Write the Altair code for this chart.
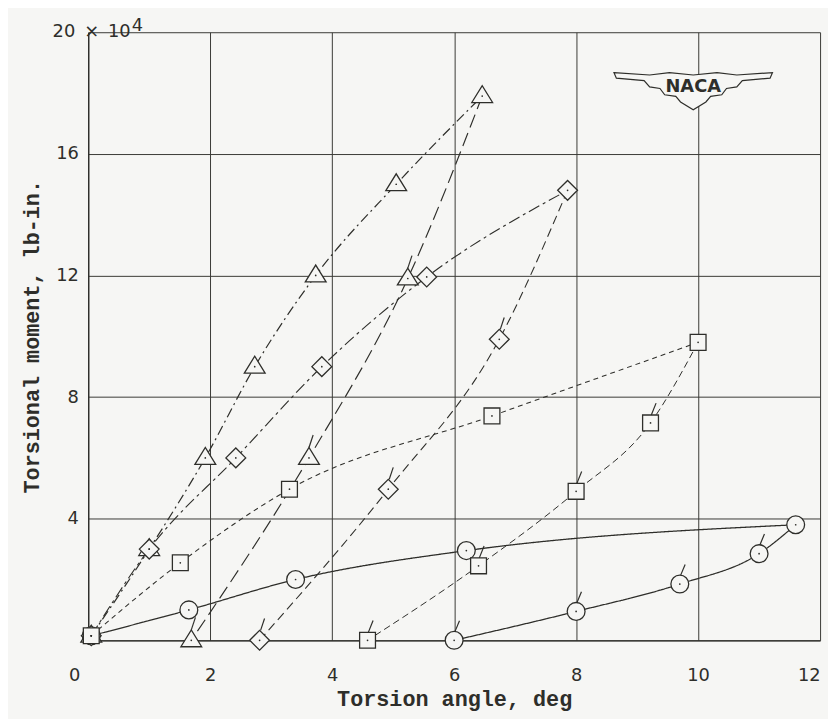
import altair as alt
import pandas as pd

# ---------------- data ----------------
circle_load_x = [0.05, 1.65, 3.4, 6.2, 11.6]
circle_load_y = [0.15, 1.0, 2.0, 2.95, 3.8]
circle_unload_x = [11.6, 11.0, 9.7, 8.0, 6.0]
circle_unload_y = [3.8, 2.85, 1.85, 0.95, 0.0]

triangle_load_x = [0.05, 1.0, 1.92, 2.73, 3.73, 5.05, 6.46]
triangle_load_y = [0.15, 3.0, 6.0, 9.0, 12.0, 15.0, 17.9]
triangle_unload_x = [6.46, 5.24, 3.62, 1.69]
triangle_unload_y = [17.9, 11.9, 6.0, 0.0]

diamond_load_x = [0.05, 1.0, 2.42, 3.83, 5.55, 7.86]
diamond_load_y = [0.15, 3.0, 6.0, 9.0, 11.95, 14.8]
diamond_unload_x = [7.86, 6.74, 4.92, 2.81]
diamond_unload_y = [14.8, 9.9, 4.97, 0.0]

square_load_x = [0.05, 1.51, 3.3, 6.62, 10.0]
square_load_y = [0.15, 2.55, 4.97, 7.38, 9.8]
square_unload_x = [10.0, 9.22, 8.0, 6.4, 4.58]
square_unload_y = [9.8, 7.15, 4.9, 2.45, 0.0]

x_ticks = [0, 2, 4, 6, 8, 10, 12]
y_ticks = [0, 4, 8, 12, 16, 20]

# ---------------- build tables ----------------
curves = [
    ("circle_load", "circle", circle_load_x, circle_load_y, False),
    ("circle_unload", "circle", circle_unload_x, circle_unload_y, True),
    ("triangle_load", "triangle", triangle_load_x, triangle_load_y, False),
    ("triangle_unload", "triangle", triangle_unload_x, triangle_unload_y, True),
    ("diamond_load", "diamond", diamond_load_x, diamond_load_y, False),
    ("diamond_unload", "diamond", diamond_unload_x, diamond_unload_y, True),
    ("square_load", "square", square_load_x, square_load_y, False),
    ("square_unload", "square", square_unload_x, square_unload_y, True),
]

line_rows = []
marker_rows = []
for name, shape, xs, ys, unload in curves:
    for i, (xv, yv) in enumerate(zip(xs, ys)):
        line_rows.append({"curve": name, "x": xv, "y": yv, "i": i})
        if unload and i == 0:
            continue  # apex already drawn by loading curve
        marker_rows.append({"shape": shape, "x": xv, "y": yv, "ticked": unload})

lines_df = pd.DataFrame(line_rows)
markers_df = pd.DataFrame(marker_rows)

BG = "#f6f6f4"
INK = "#2e2e2a"

curve_names = [c[0] for c in curves]
dash_range = [
    [1, 0],            # circle load: solid
    [1, 0],            # circle unload: solid
    [10, 4, 2, 4],     # triangle load: dash-dot
    [14, 6],           # triangle unload: long dash
    [12, 4, 3, 4],     # diamond load
    [9, 5],            # diamond unload
    [5, 4],            # square load
    [7, 4],            # square unload
]
width_range = [1.3, 1.0, 1.0, 1.0, 1.0, 1.1, 0.9, 1.2]

# marker styling per shape: (symbol, size, flag path)
shape_style = {
    "circle": ("circle", 324, "M0.1,-1L0.6,-2.2"),
    "triangle": ("M-1,0.62L0,-1L1,0.62Z", 441, "M0,-1L0.4,-2.2"),
    "diamond": ("diamond", 400, "M0.1,-1L0.5,-2.2"),
    "square": ("square", 256, "M0.1,-1L0.7,-2.5"),
}

x_enc = alt.X(
    "x:Q",
    scale=alt.Scale(domain=[0, 12], nice=False),
    axis=alt.Axis(
        values=x_ticks,
        format="d",
        title="Torsion angle, deg",
        labelOffset={"expr": "datum.value == 0 ? -20 : 0"},
    ),
)
y_enc = alt.Y(
    "y:Q",
    scale=alt.Scale(domain=[0, 20], nice=False),
    axis=alt.Axis(
        values=y_ticks,
        format="d",
        title="Torsional moment, lb-in.",
        labelExpr="(datum.value == 0 || datum.value == 20) ? '' : datum.label",
    ),
)

lines = alt.Chart(lines_df).mark_line(interpolate="monotone", color=INK).encode(
    x=x_enc,
    y=y_enc,
    detail="curve:N",
    order="i:Q",
    strokeDash=alt.StrokeDash("curve:N", scale=alt.Scale(domain=curve_names, range=dash_range), legend=None),
    strokeWidth=alt.StrokeWidth("curve:N", scale=alt.Scale(domain=curve_names, range=width_range), legend=None),
)

layers = [lines]
for shp, (sym, sz, flag) in shape_style.items():
    base = alt.Chart(markers_df).transform_filter(alt.datum.shape == shp)
    layers.append(
        base.mark_point(shape=sym, size=sz, fill=BG, fillOpacity=1, stroke=INK,
                        strokeWidth=1.3, opacity=1).encode(x="x:Q", y="y:Q")
    )
    layers.append(
        base.transform_filter("datum.ticked").mark_point(
            shape=flag, size=sz, fillOpacity=0, stroke=INK, strokeWidth=1.2, opacity=1
        ).encode(x="x:Q", y="y:Q")
    )

dots = alt.Chart(markers_df).mark_point(filled=True, color=INK, size=3, opacity=1).encode(x="x:Q", y="y:Q")
layers.append(dots)

# y-axis top label "20 x 10^4"
top_label_df = pd.DataFrame({"x": [0], "y": [20], "t": ["20\u2002×\u200210"], "e": ["4"]})
top_label = alt.Chart(top_label_df).mark_text(
    align="left", baseline="middle", dx=-36, font="DejaVu Sans", fontSize=18, color=INK
).encode(x="x:Q", y="y:Q", text="t:N")
top_exp = alt.Chart(top_label_df).mark_text(
    align="left", baseline="middle", dx=44, dy=-6, font="DejaVu Sans", fontSize=18, color=INK
).encode(x="x:Q", y="y:Q", text="e:N")
layers += [top_label, top_exp]

# NACA emblem
logo_df = pd.DataFrame({"x": [9.92], "y": [18.15], "t": ["NACA"]})
wing_path = (
    "M-1,-0.2L-0.55,-0.17L-0.3,-0.2L0,-0.17L0.3,-0.2L0.55,-0.17L1,-0.2"
    "L0.97,-0.13L0.62,-0.1L0.55,-0.02L0.42,0.0L0.36,0.08L0.22,0.1L0.16,0.17"
    "L0,0.27L-0.16,0.17L-0.22,0.1L-0.36,0.08L-0.42,0.0L-0.55,-0.02L-0.62,-0.1L-0.97,-0.13Z"
)
logo_wing = alt.Chart(logo_df).mark_point(
    shape=wing_path, size=25600, fill=BG, fillOpacity=1, stroke=INK, strokeWidth=1.2, opacity=1
).encode(x="x:Q", y="y:Q")
logo_text = alt.Chart(logo_df).mark_text(
    font="DejaVu Sans", fontWeight="bold", fontSize=18, color=INK, dy=-1
).encode(x="x:Q", y="y:Q", text="t:N")
layers += [logo_wing, logo_text]

TITLE_FONT = "'Liberation Mono', 'Courier New', Cousine, monospace"

chart = (
    alt.layer(*layers)
    .properties(
        width=739,
        height=614,
        autosize=alt.AutoSizeParams(type="none"),
        padding={"left": 81, "top": 21, "right": 8, "bottom": 76},
        background=BG,
    )
    .configure_view(stroke=None)
    .configure_axis(
        grid=True,
        gridColor="#3a3a36",
        gridWidth=1,
        gridOpacity=1,
        domainColor=INK,
        domainWidth=1.3,
        tickSize=0,
        labelFont="DejaVu Sans",
        labelFontSize=18,
        labelColor=INK,
        titleFont=TITLE_FONT,
        titleFontSize=22,
        titleFontWeight="bold",
        titleColor=INK,
    )
    .configure_axisX(labelPadding=27, titlePadding=4)
    .configure_axisY(labelPadding=10, titlePadding=12)
)

chart.save("out.html", embed_options={"renderer": "svg", "actions": False})
